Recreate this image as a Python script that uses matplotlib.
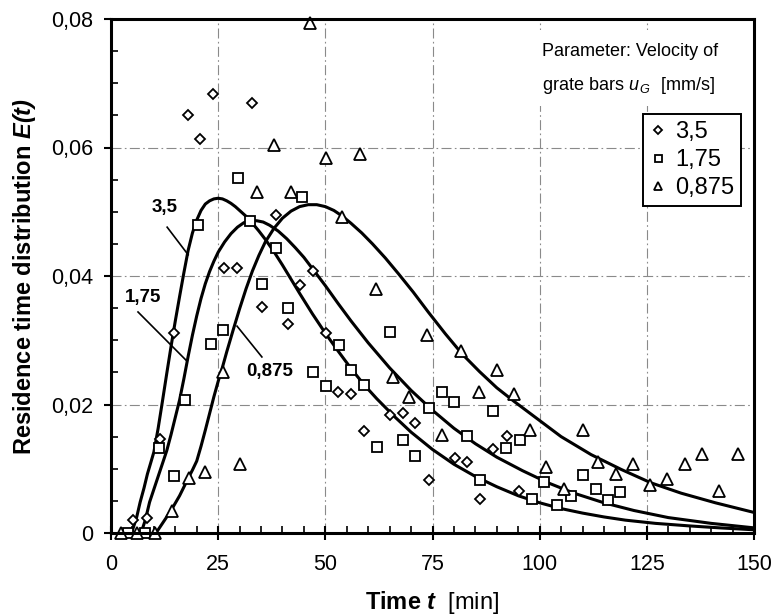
import matplotlib
matplotlib.use("Agg")
import matplotlib.pyplot as plt
from matplotlib.patches import Rectangle

plt.rcParams['font.family'] = ['Liberation Sans', 'DejaVu Sans']
plt.rcParams['mathtext.fontset'] = 'custom'
plt.rcParams['mathtext.rm'] = 'Liberation Sans'
plt.rcParams['mathtext.it'] = 'Liberation Sans:italic'
plt.rcParams['mathtext.bf'] = 'Liberation Sans:bold'
plt.rcParams['mathtext.bfit'] = 'Liberation Sans:bold:italic'

# ---------------- measured data ----------------
t_35 = [5.2, 8.5, 11.4, 14.7, 17.9, 20.8, 23.9, 26.4, 29.4, 32.8, 35.3, 38.6, 41.4,
        44.2, 47.2, 50.2, 53.0, 56.0, 59.1, 65.1, 68.1, 71.0, 74.1, 80.2, 83.1,
        86.0, 89.2, 92.3, 95.2]
E_35 = [0.0020, 0.0023, 0.0146, 0.0312, 0.0650, 0.0614, 0.0683, 0.0412, 0.0412,
        0.0669, 0.0351, 0.0495, 0.0325, 0.0386, 0.0408, 0.0311, 0.0219, 0.0217,
        0.0158, 0.0183, 0.0187, 0.0171, 0.0082, 0.0116, 0.0110, 0.0053, 0.0130,
        0.0151, 0.0066]

t_175 = [4.0, 8.0, 11.3, 14.7, 17.3, 20.4, 23.3, 26.2, 29.6, 32.5, 35.3, 38.4, 41.4,
         44.5, 47.1, 50.1, 53.1, 56.0, 59.1, 62.0, 65.2, 68.1, 70.9, 74.1, 77.1,
         80.0, 83.1, 86.0, 89.2, 92.1, 95.3, 98.1, 101.0, 104.0, 107.3, 110.2,
         113.1, 116.0, 118.8]
E_175 = [0.0, 0.0, 0.0132, 0.0089, 0.0207, 0.0479, 0.0294, 0.0316, 0.0553, 0.0486,
         0.0388, 0.0444, 0.0350, 0.0523, 0.0251, 0.0229, 0.0292, 0.0254, 0.0230,
         0.0134, 0.0313, 0.0145, 0.0120, 0.0194, 0.0220, 0.0204, 0.0151, 0.0082,
         0.0190, 0.0132, 0.0144, 0.0053, 0.0079, 0.0044, 0.0057, 0.0090, 0.0069,
         0.0052, 0.0064]

t_0875 = [2.3, 6.0, 10.2, 14.2, 18.2, 21.9, 26.1, 30.0, 34.1, 38.1, 41.9, 46.4, 50.1,
          53.8, 58.1, 61.8, 65.7, 69.6, 73.7, 77.3, 81.6, 85.9, 90.0, 93.9, 97.7,
          101.5, 105.6, 110.0, 113.7, 117.7, 121.7, 125.8, 129.8, 133.8, 137.9,
          141.9, 146.2]
E_0875 = [0.0, 0.0, 0.0, 0.0034, 0.0085, 0.0095, 0.0250, 0.0108, 0.0531, 0.0604,
          0.0531, 0.0794, 0.0583, 0.0492, 0.0590, 0.0379, 0.0243, 0.0212, 0.0308,
          0.0153, 0.0284, 0.0220, 0.0253, 0.0217, 0.0160, 0.0103, 0.0069, 0.0160,
          0.0110, 0.0092, 0.0107, 0.0074, 0.0084, 0.0108, 0.0123, 0.0066, 0.0123]

# fitted curves
ct_35 = [4.8, 6.0, 6.8, 7.7, 8.5, 9.3, 10.0, 11.0, 12.0, 13.0, 14.0, 15.0, 16.0,
         17.0, 18.0, 19.0, 20.0, 21.0, 22.0, 23.0, 24.0, 25.0, 26.0, 27.0, 28.0,
         29.0, 30.0, 31.5, 33.0, 34.5, 36.0, 38.0, 40.0, 42.0, 44.0, 47.0, 50.0,
         53.0, 56.0, 59.0, 62.0, 66.0, 70.0, 75.0, 80.0, 85.0, 90.0, 95.0, 100.0,
         105.0, 110.0, 115.0, 120.0, 127.0, 135.0, 142.0, 150.0]
cE_35 = [0.0, 0.0025, 0.0048, 0.0070, 0.0092, 0.0110, 0.0126, 0.0163, 0.0205,
         0.0248, 0.0290, 0.0330, 0.0368, 0.0405, 0.0440, 0.0467, 0.0487, 0.0502,
         0.0512, 0.0517, 0.0520, 0.0521, 0.0520, 0.0517, 0.0513, 0.0508, 0.0502,
         0.0493, 0.0482, 0.0470, 0.0457, 0.0438, 0.0417, 0.0395, 0.0373, 0.0341,
         0.0311, 0.0283, 0.0256, 0.0231, 0.0209, 0.0182, 0.0157, 0.0130, 0.0107,
         0.0088, 0.0072, 0.0058, 0.0047, 0.0038, 0.0031, 0.0025, 0.0020, 0.0015,
         0.0011, 0.0008, 0.0005]

ct_175 = [7.0, 8.0, 9.0, 10.0, 11.0, 12.0, 13.0, 14.0, 15.0, 16.0, 17.0, 18.0, 19.0,
          20.0, 21.0, 22.0, 23.0, 24.0, 25.0, 26.5, 28.0, 29.5, 31.0, 32.5, 34.0,
          35.5, 37.0, 39.0, 41.0, 43.0, 45.0, 47.5, 50.0, 53.0, 56.0, 60.0, 65.0,
          70.0, 75.0, 80.0, 85.0, 90.0, 96.0, 102.0, 108.0, 115.0, 122.0, 130.0,
          140.0, 150.0]
cE_175 = [0.0, 0.0020, 0.0048, 0.0068, 0.0088, 0.0108, 0.0128, 0.0153, 0.0180,
          0.0207, 0.0240, 0.0275, 0.0308, 0.0338, 0.0365, 0.0388, 0.0407, 0.0423,
          0.0437, 0.0453, 0.0466, 0.0476, 0.0483, 0.0486, 0.0486, 0.0484, 0.0479,
          0.0470, 0.0458, 0.0444, 0.0429, 0.0407, 0.0385, 0.0357, 0.0330, 0.0296,
          0.0257, 0.0222, 0.0191, 0.0163, 0.0139, 0.0118, 0.0097, 0.0078, 0.0062,
          0.0047, 0.0035, 0.0024, 0.0015, 0.0008]

ct_0875 = [10.5, 12.0, 14.0, 16.0, 18.0, 19.0, 20.0, 21.0, 22.0, 23.0, 24.0, 25.0,
           26.0, 27.0, 28.5, 30.0, 31.5, 33.0, 34.5, 36.0, 38.0, 40.0, 42.0, 44.0,
           46.0, 48.0, 50.0, 52.0, 54.0, 56.0, 58.5, 61.0, 64.0, 67.0, 70.5, 74.0,
           78.0, 82.0, 86.0, 90.0, 94.0, 99.0, 105.0, 112.0, 119.0, 126.0, 133.0,
           141.0, 150.0]
cE_0875 = [0.0, 0.0015, 0.0035, 0.0058, 0.0085, 0.0098, 0.0112, 0.0135, 0.0160,
           0.0186, 0.0212, 0.0236, 0.0258, 0.0282, 0.0316, 0.0349, 0.0380, 0.0408,
           0.0432, 0.0453, 0.0474, 0.0490, 0.0501, 0.0508, 0.0511, 0.0511, 0.0508,
           0.0502, 0.0493, 0.0482, 0.0467, 0.0450, 0.0428, 0.0404, 0.0375, 0.0344,
           0.0310, 0.0278, 0.0251, 0.0226, 0.0205, 0.0180, 0.0150, 0.0122, 0.0099,
           0.0078, 0.0062, 0.0047, 0.0032]

legend_labels = ["3,5", "1,75", "0,875"]
x_ticks = [0, 25, 50, 75, 100, 125, 150]
x_ticklabels = ["0", "25", "50", "75", "100", "125", "150"]
y_ticks = [0, 0.02, 0.04, 0.06, 0.08]
y_ticklabels = ["0", "0,02", "0,04", "0,06", "0,08"]

# curve label annotations: (text, text pos, leader start, leader end)
curve_notes = [
    ("3,5", (12.6, 0.0506), (13.1, 0.0476), (18.0, 0.0433)),
    ("1,75", (7.5, 0.0366), (6.3, 0.0344), (17.5, 0.0269)),
    ("0,875", (37.1, 0.0251), (35.2, 0.0274), (29.4, 0.0322)),
]

# ---------------- figure ----------------
W, H = 778, 616
fig = plt.figure(figsize=(W / 100, H / 100), dpi=100)
ax = fig.add_axes([111 / W, 1 - 533 / H, (754 - 111) / W, (533 - 19) / H])

ax.set_xlim(0, 150)
ax.set_ylim(0, 0.08)
ax.set_axisbelow(True)

ax.grid(True, which='major', color='#8a8a8a', linestyle=(0, (9, 3, 1.5, 3)),
        linewidth=0.8)

lw = 2.2
for ct, ce in [(ct_35, cE_35), (ct_175, cE_175), (ct_0875, cE_0875)]:
    ax.plot(ct, ce, color='black', lw=lw, zorder=3, solid_capstyle='butt',
            solid_joinstyle='round')

mk = dict(linestyle='none', markerfacecolor='white', markeredgecolor='black',
          markeredgewidth=1.3, zorder=4, clip_on=False)
h1, = ax.plot(t_35, E_35, marker='D', markersize=5.6, label=legend_labels[0], **mk)
h2, = ax.plot(t_175, E_175, marker='s', markersize=7.2, label=legend_labels[1], **mk)
h3, = ax.plot(t_0875, E_0875, marker='^', markersize=8.4, label=legend_labels[2], **mk)

for txt, tp, p0, p1 in curve_notes:
    ax.text(tp[0], tp[1], txt, ha='center', va='center', fontsize=13.5,
            fontweight='bold', zorder=5)
    ax.plot([p0[0], p1[0]], [p0[1], p1[1]], color='black', lw=1.2, zorder=5)

# axes styling
for s in ax.spines.values():
    s.set_linewidth(2.2)
    s.set_zorder(6)

ax.set_xticks(x_ticks)
ax.set_xticklabels(x_ticklabels)
ax.set_yticks(y_ticks)
ax.set_yticklabels(y_ticklabels)
ax.set_xticks(range(0, 151, 5), minor=True)
ax.set_yticks([i * 0.005 for i in range(17)], minor=True)
ax.tick_params(axis='x', which='major', direction='inout', length=10, width=1.5,
               labelsize=15.5, pad=10)
ax.tick_params(axis='x', which='minor', direction='in', length=5, width=1.2)
ax.tick_params(axis='y', which='major', direction='out', length=5, width=1.5,
               labelsize=15.5, pad=8)
ax.tick_params(axis='y', which='minor', direction='in', length=5, width=1.2)

ax.set_xlabel(r"$\mathbf{Time}$ $\mathbfit{t}$  [min]", fontsize=17)
ax.xaxis.set_label_coords(0.5, (533 - 603) / 514, transform=ax.transAxes)
ax.xaxis.label.set_va('center')
ax.set_ylabel(r"Residence time distribution $\mathbfit{E(t)}$", fontsize=17,
              fontweight='bold')
ax.yaxis.set_label_coords((25 - 111) / 643, 0.5)
ax.yaxis.label.set_va('center')

# parameter note with white background
ax.add_patch(Rectangle((535 / W, 1 - 106 / H), 200 / W, 76 / H,
                       transform=fig.transFigure, facecolor='white',
                       edgecolor='none', zorder=1))
fig.text(542 / W, 1 - 52 / H, "Parameter: Velocity of", fontsize=13,
         ha='left', va='center')
fig.text(542 / W, 1 - 85 / H, r"grate bars $u_{\,G}$  [mm/s]", fontsize=13,
         ha='left', va='center')

leg = ax.legend(handles=[h1, h2, h3], loc='upper right',
                bbox_to_anchor=(741 / W, 1 - 114 / H), bbox_transform=fig.transFigure,
                borderaxespad=0, fancybox=False, framealpha=1, edgecolor='black',
                fontsize=17, markerscale=0.7, handlelength=0.7, handletextpad=0.35,
                labelspacing=0.25, borderpad=0.3)
leg.get_frame().set_linewidth(1.4)
leg.set_zorder(7)

fig.savefig("out.png", dpi=100)
